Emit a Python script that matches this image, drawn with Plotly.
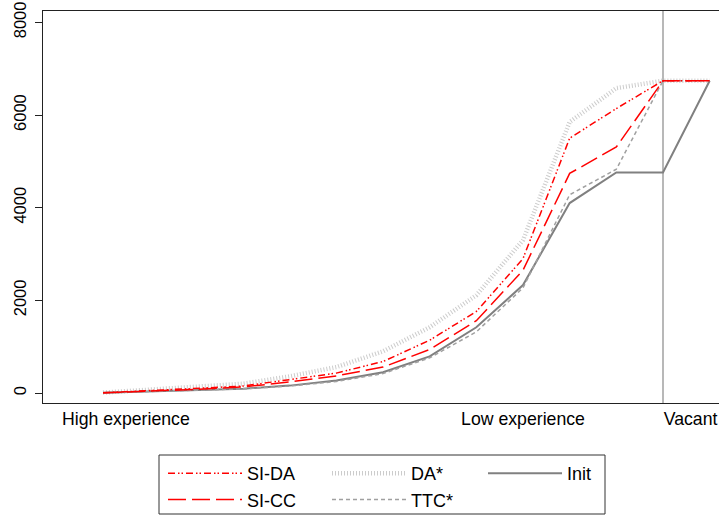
import plotly.graph_objects as go

# positions along the experience ranking (0 = highest), 12 = vacant
pos = list(range(14))

init_v = [5, 30, 60, 95, 160, 270, 450, 790, 1420, 2330, 4100, 4760, 4760, 6740]
si_cc = [5, 40, 80, 130, 240, 370, 560, 940, 1560, 2650, 4740, 5310, 6740, 6740]
si_da = [5, 50, 95, 150, 290, 430, 680, 1140, 1760, 2900, 5500, 6140, 6740, 6740]
da_star = [10, 70, 130, 200, 360, 560, 900, 1420, 2110, 3300, 5850, 6580, 6740, 6740]
ttc_star = [5, 30, 55, 90, 150, 250, 420, 760, 1320, 2270, 4280, 4830, 6740, 6740]

x_tick_vals = [0.49, 9.0, 12.59]
x_tick_text = ["High experience", "Low experience", "Vacant"]
y_tick_vals = [0, 2000, 4000, 6000, 8000]
vacant_pos = 12

FONT = "Liberation Sans, Arial, Helvetica, sans-serif"

fig = go.Figure()
fig.add_trace(go.Scatter(x=pos, y=da_star, mode="lines", name="DA*", legend="legend2",
                         legendrank=1,
                         line=dict(color="#cccccc", width=4.5, dash="1px,2px")))
fig.add_trace(go.Scatter(x=pos, y=init_v, mode="lines", name="Init", legend="legend3",
                         line=dict(color="#808080", width=2)))
fig.add_trace(go.Scatter(x=pos, y=ttc_star, mode="lines", name="TTC*", legend="legend2",
                         legendrank=2,
                         line=dict(color="#a0a0a0", width=1.5, dash="4px,3px")))
fig.add_trace(go.Scatter(x=pos, y=si_cc, mode="lines", name="SI-CC", legend="legend",
                         legendrank=2,
                         line=dict(color="#ff0000", width=1.5, dash="18px,6px")))
fig.add_trace(go.Scatter(x=pos, y=si_da, mode="lines", name="SI-DA", legend="legend",
                         legendrank=1,
                         line=dict(color="#ff0000", width=1.5, dash="7px,3px,1.5px,2px,1.5px,3px")))

fig.add_shape(type="line", x0=vacant_pos, x1=vacant_pos, y0=0, y1=1, yref="paper",
              line=dict(color="#a0a0a0", width=1.5), layer="below")

L, T, B = 43, 11, 113
W, H = 719, 516
plot_w = W - L
plot_h = H - T - B
bottom_px = H - B


def px_x(p):
    return (p - L) / plot_w


def px_y(p):
    return (bottom_px - p) / plot_h


# legend frame
fig.add_shape(type="rect", xref="paper", yref="paper",
              x0=px_x(159), x1=px_x(605), y0=px_y(455), y1=px_y(514),
              line=dict(color="#333", width=1), fillcolor="rgba(0,0,0,0)")

leg_common = dict(orientation="v", xanchor="left", yanchor="top",
                  yref="container", y=1 - 455 / H,
                  borderwidth=0, bgcolor="rgba(0,0,0,0)", itemwidth=74,
                  font=dict(size=18, family=FONT, color="black"), traceorder="normal")

fig.update_layout(
    width=W, height=H,
    margin=dict(l=L, r=0, t=T, b=B, pad=0),
    paper_bgcolor="white", plot_bgcolor="white",
    font=dict(family=FONT, color="black", size=18),
    xaxis=dict(range=[-1.286, 13.2], tickvals=x_tick_vals, ticktext=x_tick_text,
               showgrid=False, zeroline=False, showline=True, linecolor="#222",
               linewidth=1, mirror=True, ticks="", tickfont=dict(size=17.7)),
    yaxis=dict(range=[-215, 8245], tickvals=y_tick_vals, tickangle=-90,
               showgrid=False, zeroline=False, showline=True, linecolor="#222",
               linewidth=1, ticks="outside", ticklen=7, tickcolor="#222",
               tickfont=dict(size=16.5), ticklabelstandoff=2),
    showlegend=True,
    legend=dict(x=px_x(163), **leg_common),
    legend2=dict(x=px_x(327), **leg_common),
    legend3=dict(x=px_x(483), **leg_common),
)

fig.write_html("out.html")
